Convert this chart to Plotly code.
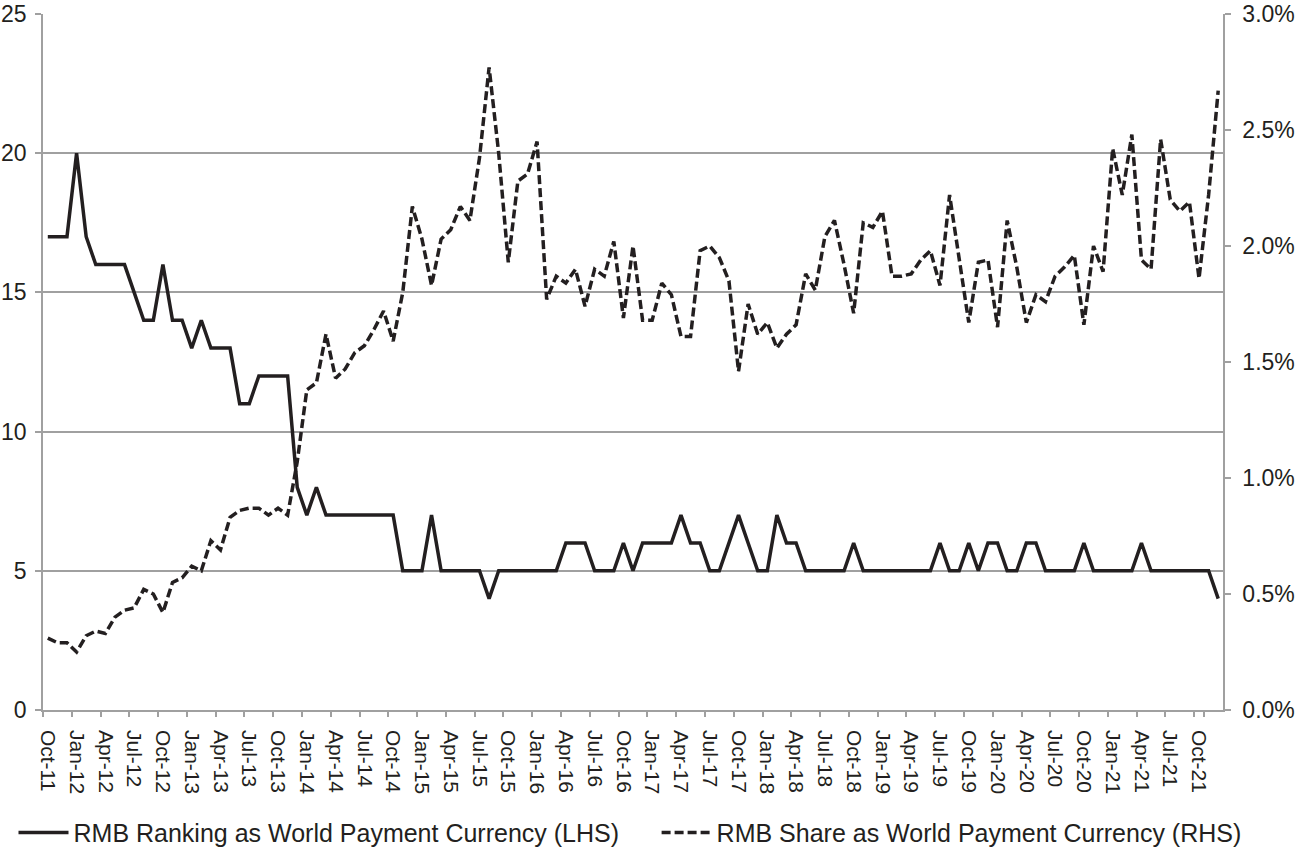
import pandas as pd
import plotly.graph_objects as go

# ---------------------------------------------------------------
# Data: monthly, Oct-2011 .. Dec-2021
# ---------------------------------------------------------------
months = pd.date_range("2011-10-01", "2021-12-01", freq="MS").strftime("%b-%y").tolist()

# RMB ranking as world payment currency (LHS)
rank = [
    17, 17, 17, 20, 17, 16, 16, 16, 16, 15, 14, 14,   # Oct-11 .. Sep-12
    16, 14, 14, 13, 14, 13, 13, 13, 11, 11, 12, 12,   # Oct-12 .. Sep-13
    12, 12, 8, 7, 8, 7, 7, 7, 7, 7, 7, 7,             # Oct-13 .. Sep-14
    7, 5, 5, 5, 7, 5, 5, 5, 5, 5, 4, 5,               # Oct-14 .. Sep-15
    5, 5, 5, 5, 5, 5, 6, 6, 6, 5, 5, 5,               # Oct-15 .. Sep-16
    6, 5, 6, 6, 6, 6, 7, 6, 6, 5, 5, 6,               # Oct-16 .. Sep-17
    7, 6, 5, 5, 7, 6, 6, 5, 5, 5, 5, 5,               # Oct-17 .. Sep-18
    6, 5, 5, 5, 5, 5, 5, 5, 5, 6, 5, 5,               # Oct-18 .. Sep-19
    6, 5, 6, 6, 5, 5, 6, 6, 5, 5, 5, 5,               # Oct-19 .. Sep-20
    6, 5, 5, 5, 5, 5, 6, 5, 5, 5, 5, 5,               # Oct-20 .. Sep-21
    5, 5, 4,                                          # Oct-21 .. Dec-21
]

# RMB share as world payment currency, % (RHS)
share = [
    0.31, 0.29, 0.29, 0.25, 0.32, 0.34, 0.33, 0.40, 0.43, 0.44, 0.52, 0.50,
    0.42, 0.55, 0.57, 0.62, 0.60, 0.73, 0.69, 0.83, 0.86, 0.87, 0.87, 0.84,
    0.87, 0.84, 1.07, 1.38, 1.41, 1.62, 1.43, 1.47, 1.54, 1.57, 1.64, 1.72,
    1.59, 1.80, 2.17, 2.03, 1.83, 2.03, 2.07, 2.17, 2.11, 2.38, 2.77, 2.40,
    1.93, 2.28, 2.31, 2.45, 1.77, 1.87, 1.84, 1.90, 1.74, 1.90, 1.87, 2.02,
    1.69, 2.00, 1.68, 1.68, 1.84, 1.79, 1.61, 1.61, 1.98, 2.00, 1.95, 1.85,
    1.46, 1.75, 1.62, 1.67, 1.56, 1.62, 1.66, 1.88, 1.81, 2.04, 2.11, 1.92,
    1.71, 2.10, 2.08, 2.15, 1.87, 1.87, 1.88, 1.94, 1.98, 1.83, 2.22, 1.94,
    1.67, 1.93, 1.94, 1.65, 2.11, 1.91, 1.67, 1.79, 1.76, 1.87, 1.91, 1.96,
    1.66, 2.00, 1.89, 2.42, 2.22, 2.48, 1.94, 1.90, 2.46, 2.20, 2.15, 2.19,
    1.86, 2.22, 2.67,
]

tick_labels = months[::3]   # Oct-11, Jan-12, ... Oct-21

ink = "#231f20"
grey = "#a0a0a0"
font = "Liberation Sans, Arial, sans-serif"

# ---------------------------------------------------------------
# Figure
# ---------------------------------------------------------------
fig = go.Figure()

fig.add_trace(go.Scatter(
    x=months, y=rank,
    mode="lines",
    line=dict(color=ink, width=3.5),
    name="RMB Ranking as World Payment Currency (LHS)",
    legend="legend",
))

fig.add_trace(go.Scatter(
    x=months, y=share,
    mode="lines",
    line=dict(color=ink, width=3.5, dash="9px,4px"),
    name="RMB Share as World Payment Currency (RHS)",
    yaxis="y2",
    legend="legend2",
))

# two one-item legends so both entries sit on one row like the original
legend_style = dict(
    orientation="h",
    yref="container", yanchor="middle", y=0.019,
    xanchor="left",
    font=dict(size=25, color=ink),
    itemwidth=50,
    bgcolor="rgba(0,0,0,0)",
)

fig.update_layout(
    width=1298, height=849,
    paper_bgcolor="white", plot_bgcolor="white",
    font=dict(family=font, size=23, color=ink),
    margin=dict(l=43, r=75, t=14, b=139),
    showlegend=True,
    legend=dict(legend_style, x=-0.025),
    legend2=dict(legend_style, x=0.52),
    xaxis=dict(
        type="category",
        range=[-0.5, len(months) - 0.5],
        tickmode="array",
        tickvals=tick_labels,
        ticktext=tick_labels,
        tickson="boundaries",
        tickangle=90,
        ticks="outside", ticklen=5, tickcolor=grey, tickwidth=1.5,
        ticklabelstandoff=14,
        showline=True, linecolor=grey, linewidth=1.5,
        showgrid=False,
        tickfont=dict(size=21),
        automargin=False,
    ),
    yaxis=dict(
        range=[0, 25],
        tick0=0, dtick=5,
        ticks="outside", ticklen=6, tickcolor=grey, tickwidth=1.5,
        ticklabelstandoff=4,
        ticklabeloverflow="allow",
        showline=True, linecolor=grey, linewidth=1.5,
        showgrid=True, gridcolor=grey, gridwidth=1.5,
        zeroline=False,
        tickfont=dict(size=23),
        automargin=False,
    ),
    yaxis2=dict(
        overlaying="y", side="right",
        range=[0, 3],
        tick0=0, dtick=0.5,
        tickformat=".1f", ticksuffix="%",
        ticks="outside", ticklen=6, tickcolor=grey, tickwidth=1.5,
        ticklabelstandoff=7,
        ticklabeloverflow="allow",
        showline=True, linecolor=grey, linewidth=1.5,
        showgrid=False, zeroline=False,
        tickfont=dict(size=23),
        automargin=False,
    ),
)

# the page body has a default 8px margin; drop it so the figure fills the window
fig.write_html(
    "out.html",
    config={"displayModeBar": False},
    post_script="document.body.style.margin = '0';",
)
